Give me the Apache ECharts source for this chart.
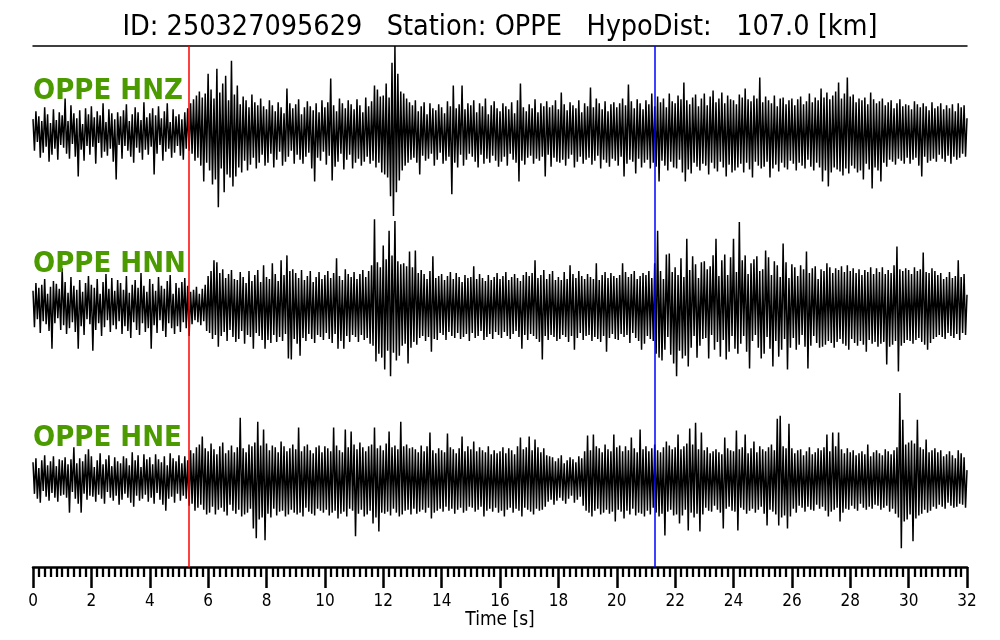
<!DOCTYPE html>
<html><head><meta charset="utf-8">
<script src="https://cdn.jsdelivr.net/npm/echarts@6/dist/echarts.min.js"></script>
<style>html,body{margin:0;background:#fff}#c{width:1000px;height:640px}</style>
</head><body><div id="c"></div>
<script>
const eventId = '250327095629';
const station = 'OPPE';
const hypoDistKm = '107.0';
const channels = ['OPPE HNZ', 'OPPE HNN', 'OPPE HNE'];
const sampleInterval = 0.05; // s
const timeRange = [0, 32];
const majorTickStep = 2;
const pickTimes = [5.34, 21.31];

const hnz = [
14,-18,22,-9,17,-25,12,-20,26,-14,19,-29,10,-22,24,-16,13,-27,21,-12,
18,-15,35,-21,12,-26,28,-11,20,-24,15,-44,23,-17,9,-28,25,-13,19,-22,
27,-14,16,-31,22,-10,18,-25,30,-19,11,-23,24,-16,20,-29,14,-47,21,-12,
17,-26,23,-13,29,-18,12,-24,19,-30,26,-15,21,-20,13,-27,31,-17,16,-22,
20,-14,25,-42,18,-21,27,-12,15,-28,22,-19,30,-16,11,-25,24,-20,17,-13,
19,-23,14,-27,21,-16,25,-18,30,-21,34,-28,38,-25,42,-33,36,-49,40,-30,
60,-38,44,-52,35,-47,65,-75,41,-36,50,-60,58,-42,33,-45,73,-54,39,-44,
48,-35,29,-40,37,-28,33,-38,26,-32,39,-25,31,-36,28,-30,35,-22,27,-33,
24,-30,33,-21,28,-35,22,-27,31,-19,26,-33,20,-29,45,-24,30,-18,25,-31,
29,-22,34,-27,19,-31,26,-24,32,-20,27,-36,23,-49,30,-25,21,-28,33,-19,
26,-32,31,-23,55,-48,28,-34,22,-29,35,-21,30,-37,25,-27,33,-22,29,-36,
24,-30,34,-26,28,-33,21,-29,36,-24,27,-31,32,-28,48,-35,44,-30,37,-40,
38,-42,50,-45,36,-64,71,-84,88,-60,60,-48,42,-38,40,-33,35,-30,31,-27,
28,-25,33,-30,22,-42,27,-23,31,-28,19,-26,30,-21,25,-33,23,-27,29,-20,
26,-31,20,-28,32,-24,27,-62,48,-30,25,-35,29,-22,48,-33,24,-27,30,-21,
28,-24,33,-29,21,-35,30,-22,27,-31,35,-26,19,-30,28,-23,32,-28,25,-34,
22,-29,30,-24,27,-33,24,-21,31,-27,20,-30,33,-49,50,-28,26,-32,22,-25,
29,-23,25,-31,34,-26,21,-28,30,-24,27,-44,32,-22,26,-34,28,-25,33,-29,
24,-30,41,-27,29,-33,23,-26,31,-22,28,-35,25,-29,33,-24,21,-31,30,-27,
27,-25,46,-32,26,-28,35,-23,30,-36,24,-27,32,-30,22,-34,29,-26,31,-28,
26,-33,30,-24,35,-44,28,-31,49,-27,32,-29,25,-41,34,-26,30,-35,24,-30,
33,-27,29,-36,40,-30,27,-34,37,-49,31,-28,35,-33,26,-38,40,-29,32,-35,
30,-36,38,-27,34,-40,51,-49,33,-37,29,-41,36,-30,39,-34,27,-38,35,-31,
40,-33,28,-42,37,-30,43,-36,31,-39,35,-29,41,-35,30,-44,38,-32,34,-40,
33,-38,29,-35,39,-31,36,-40,45,-30,34,-37,32,-45,38,-29,35,-33,56,-36,
31,-34,37,-29,33,-45,30,-36,38,-32,27,-39,35,-30,36,-35,29,-37,33,-28,
35,-31,28,-38,34,-30,37,-33,29,-36,32,-27,40,-34,31,-38,36,-30,33,-35,
45,-49,36,-38,41,-54,34,-40,38,-35,42,-37,51,-39,35,-43,40,-36,56,-41,
37,-33,39,-36,31,-40,35,-38,33,-47,36,-31,29,-37,41,-56,34,-35,30,-38,
32,-49,35,-30,28,-34,31,-27,33,-29,25,-32,30,-26,34,-28,27,-31,29,-25,
28,-31,24,-27,32,-25,29,-33,26,-44,30,-24,27,-30,23,-28,31,-26,25,-29,
27,-22,30,-26,24,-29,28,-23,25,-31,29,-24,22,-27,30,-25,26,-21,28,-24,
15];

const hnn = [
16,-21,24,-13,19,-27,22,-15,28,-18,13,-25,20,-43,26,-17,23,-12,18,-24,
39,-19,25,-28,14,-22,30,-16,21,-26,17,-43,27,-20,15,-29,24,-13,31,-18,
22,-45,19,-24,28,-17,13,-30,25,-21,33,-14,18,-26,29,-19,16,-23,27,-15,
24,-28,17,-20,31,-25,14,-32,22,-16,27,-24,19,-29,34,-17,21,-26,15,-22,
28,-43,23,-19,16,-27,30,-14,21,-25,18,-31,26,-17,32,-22,13,-28,24,-20,
19,-26,25,-16,29,-22,21,-30,15,-18,17,-14,20,-16,13,-19,18,-15,22,-25,
31,-27,36,-33,47,-29,45,-41,34,-30,38,-26,29,-35,33,-24,37,-31,28,-36,
27,-33,35,-25,30,-38,24,-29,36,-31,26,-43,32,-27,37,-30,25,-34,42,-43,
30,-34,28,-37,44,-29,33,-36,26,-31,47,-35,32,-28,52,-53,36,-54,38,-33,
34,-38,29,-50,37,-32,27,-35,31,-28,36,-33,25,-37,30,-29,35,-31,28,-34,
32,-27,36,-33,29,-37,34,-28,49,-43,31,-35,27,-43,38,-30,33,-36,30,-29,
35,-31,28,-36,33,-29,37,-34,30,-32,36,-38,42,-40,89,-56,45,-48,40,-52,
62,-64,48,-45,77,-71,52,-47,87,-55,46,-50,43,-40,44,-38,41,-58,56,-42,
40,-36,57,-39,34,-32,37,-30,33,-35,28,-31,36,-46,51,-33,29,-34,31,-27,
33,-29,27,-34,31,-26,35,-30,28,-32,34,-27,30,-33,25,-31,32,-28,29,-35,
30,-27,41,-32,28,-30,33,-25,29,-34,26,-31,32,-28,27,-33,30,-26,34,-29,
28,-32,31,-26,35,-30,27,-33,30,-28,33,-25,29,-31,26,-43,32,-29,35,-34,
31,-28,34,-30,47,-33,29,-36,32,-54,37,-30,28,-34,33,-29,36,-31,27,-35,
30,-33,27,-29,35,-31,28,-36,42,-30,33,-44,29,-32,36,-27,31,-34,28,-30,
33,-29,30,-35,28,-31,44,-33,27,-36,32,-30,35,-46,29,-32,34,-28,31,-33,
29,-34,32,-28,44,-31,35,-29,30,-37,33,-27,36,-32,28,-35,31,-44,34,-38,
32,-30,36,-33,29,-35,44,-48,77,-52,36,-55,28,-44,53,-31,54,-49,35,-58,
40,-71,32,-45,49,-53,30,-50,69,-61,37,-42,51,-30,43,-52,29,-40,45,-33,
46,-32,38,-53,41,-29,52,-44,69,-36,31,-51,47,-34,53,-54,32,-46,50,-30,
69,-43,35,-48,86,-38,47,-30,52,-46,33,-63,44,-35,48,-29,51,-42,36,-53,
38,-48,57,-31,50,-43,32,-61,46,-35,42,-51,30,-44,64,-33,45,-64,29,-42,
43,-32,40,-44,31,-39,42,-29,38,-41,56,-63,34,-40,39,-30,41,-37,28,-42,
38,-41,36,-39,44,-35,40,-37,34,-42,39,-36,37,-33,41,-38,35,-40,42,-44,
36,-33,39,-37,34,-40,38,-35,32,-39,37,-46,35,-34,40,-38,33,-36,39,-41,
35,-38,40,-36,33,-59,37,-41,34,-39,42,-35,61,-66,38,-40,36,-37,39,-34,
37,-35,33,-38,40,-34,36,-32,38,-36,55,-39,35,-44,34,-37,39,-33,36,-31,
32,-29,34,-31,28,-33,30,-27,35,-30,29,-32,31,-28,47,-34,30,-27,33,-29,
12];

const hne = [
18,-14,22,-19,12,-23,20,-11,25,-17,15,-21,19,-13,24,-18,14,-22,21,-16,
20,-15,23,-18,16,-33,21,-12,33,-19,17,-24,22,-33,19,-14,26,-20,31,-16,
24,-17,13,-22,20,-15,27,-19,16,-24,21,-12,25,-18,14,-21,23,-16,19,-25,
17,-20,24,-14,22,-18,15,-23,28,-27,20,-16,25,-21,13,-19,26,-15,21,-22,
23,-18,16,-24,26,-13,21,-20,18,-25,24,-31,15,-19,27,-17,22,-23,19,-14,
25,-21,17,-16,24,-19,20,-26,30,-24,27,-31,33,-28,36,-25,44,-30,32,-35,
29,-33,37,-27,31,-35,26,-30,34,-28,38,-32,27,-36,30,-25,35,-31,28,-34,
33,-30,63,-37,32,-35,28,-33,36,-29,34,-49,38,-59,59,-40,35,-38,51,-61,
37,-34,30,-38,35,-29,33,-36,28,-32,39,-31,34,-37,29,-35,32,-30,36,-33,
31,-35,53,-33,29,-37,34,-28,36,-32,30,-34,27,-36,33,-29,35,-31,28,-33,
34,-30,32,-36,29,-33,53,-31,35,-39,30,-34,28,-32,51,-37,33,-29,49,-31,
36,-57,31,-34,38,-30,33,-37,29,-35,34,-31,36,-44,53,-38,32,-52,35,-33,
30,-34,37,-32,49,-36,33,-29,35,-33,31,-37,59,-35,34,-31,36,-30,32,-35,
33,-29,31,-34,28,-32,35,-30,29,-33,34,-28,48,-39,30,-33,27,-31,32,-29,
30,-32,28,-27,47,-31,33,-29,31,-34,27,-30,32,-28,44,-33,29,-31,34,-27,
31,-28,39,-32,29,-30,33,-27,30,-37,28,-31,34,-29,26,-32,30,-28,27,-33,
29,-31,33,-37,27,-30,32,-28,30,-33,26,-29,34,-31,43,-37,31,-28,33,-30,
44,-32,30,-35,41,-29,33,-31,28,-30,32,-27,25,-22,24,-20,23,-25,19,-21,
22,-18,25,-21,17,-24,20,-19,23,-16,21,-23,18,-20,24,-17,22,-26,29,-31,
45,-33,30,-37,46,-31,34,-29,32,-35,28,-33,36,-30,31,-34,29,-32,46,-42,
33,-30,35,-32,29,-39,34,-31,30,-35,43,-29,32,-36,28,-33,51,-34,31,-37,
34,-31,29,-35,32,-28,36,-33,30,-37,28,-34,33,-56,39,-32,35,-30,31,-36,
33,-35,46,-44,31,-36,34,-30,37,-51,52,-33,36,-38,58,-34,31,-52,48,-35,
30,-28,33,-31,27,-32,29,-26,31,-30,28,-33,26,-49,43,-29,32,-27,30,-31,
29,-32,50,-51,31,-28,33,-30,46,-34,27,-31,32,-29,39,-33,28,-30,34,-27,
31,-34,29,-46,33,-30,36,-32,30,-35,62,-46,65,-38,34,-36,32,-49,57,-37,
32,-29,27,-33,30,-26,31,-28,25,-32,29,-27,33,-30,26,-31,28,-25,32,-29,
30,-27,33,-31,46,-37,29,-32,48,-30,34,-28,48,-42,31,-33,27,-29,32,-30,
28,-26,30,-29,25,-31,27,-24,29,-28,26,-30,36,-27,24,-29,28,-25,30,-26,
27,-30,25,-28,31,-26,29,-32,26,-29,30,-34,33,-38,88,-69,61,-42,36,-40,
38,-35,40,-62,37,-39,61,-36,33,-34,31,-30,41,-33,28,-31,30,-27,32,-29,
28,-25,30,-27,24,-29,26,-23,29,-26,25,-28,22,-27,30,-24,27,-25,23,-28,
10];

const traces = [hnz, hnn, hne];
const ampLimit = 88;

const FONT = '"DejaVu Sans Condensed", "DejaVu Sans"';
const gridTops = [46, 220, 393];
const gridHeights = [174, 173, 174];
const labelTops = [77, 250, 424];

const chart = echarts.init(document.getElementById('c'), null, { renderer: 'canvas' });

const option = {
  animation: false,
  backgroundColor: '#fff',
  title: [
    {
      text: 'ID: ' + eventId + '   Station: ' + station + '   HypoDist:   ' + hypoDistKm + ' [km]',
      left: 'center', top: 13, padding: 0,
      textStyle: { fontFamily: FONT, fontSize: 28.5, fontWeight: 'normal', color: '#000' }
    }
  ].concat(channels.map((c, k) => ({
    text: c, left: 33, top: labelTops[k], padding: 0,
    textStyle: { fontFamily: FONT, fontSize: 29, fontWeight: 'bold', color: '#4a9a00' }
  }))),
  grid: gridTops.map((t, k) => ({ left: 33, right: 33, top: t, height: gridHeights[k], containLabel: false })),
  xAxis: [0, 1, 2].map(k => ({
    type: 'value', gridIndex: k, min: timeRange[0], max: timeRange[1], interval: majorTickStep,
    position: k === 0 ? 'top' : 'bottom',
    axisLine: { show: k !== 1, onZero: false, lineStyle: { color: '#000', width: k === 2 ? 2.5 : 1.5 } },
    axisTick: { show: k === 2, length: 21, lineStyle: { color: '#000', width: 2.5 } },
    minorTick: { show: k === 2, splitNumber: 10, length: 10, lineStyle: { color: '#000', width: 2.3 } },
    axisLabel: { show: k === 2, margin: 26, fontFamily: FONT, fontSize: 17, color: '#000' },
    splitLine: { show: false }, minorSplitLine: { show: false },
    name: k === 2 ? 'Time [s]' : '', nameLocation: 'middle', nameGap: 41,
    nameTextStyle: { fontFamily: FONT, fontSize: 19, color: '#000' }
  })),
  yAxis: [0, 1, 2].map(k => ({
    type: 'value', gridIndex: k, min: -ampLimit, max: ampLimit, show: false,
    splitLine: { show: false }
  })),
  series: traces.map((vals, k) => ({
    type: 'line', xAxisIndex: k, yAxisIndex: k,
    data: vals.map((v, i) => [i * sampleInterval, v]),
    showSymbol: false, symbol: 'none', sampling: null, silent: true,
    lineStyle: { color: '#000', width: 1.5, join: 'miter' },
    emphasis: { disabled: true },
    markLine: {
      silent: true, symbol: ['none', 'none'], label: { show: false }, animation: false,
      data: [
        { xAxis: pickTimes[0], lineStyle: { color: '#ff0000', width: 1.5, type: 'solid', opacity: 1 } },
        { xAxis: pickTimes[1], lineStyle: { color: '#0000ff', width: 1.5, type: 'solid', opacity: 1 } }
      ]
    }
  }))
};
chart.setOption(option);
</script>
</body></html>
